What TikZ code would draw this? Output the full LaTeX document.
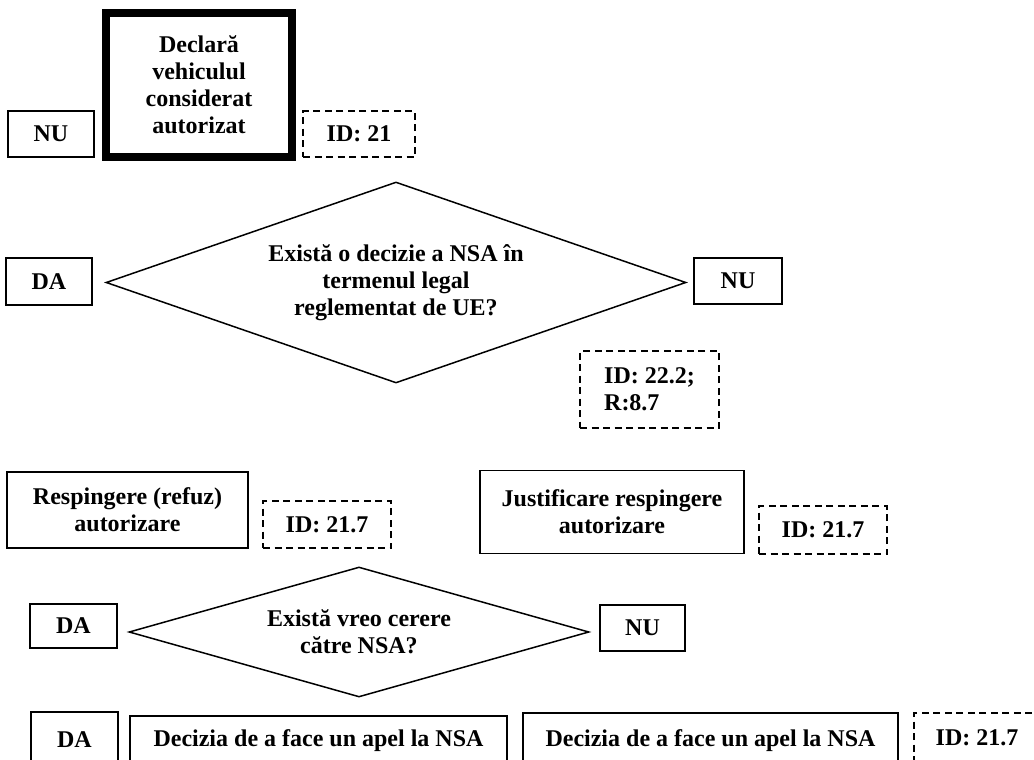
\documentclass[tikz,border=0pt]{standalone}
\usepackage{fontspec}
\setmainfont{Liberation Serif}
\usetikzlibrary{shapes.geometric}
\begin{document}
\begin{tikzpicture}[x=1pt,y=-1pt,
  every node/.style={font=\fontsize{24}{27}\selectfont\bfseries, align=center, inner sep=0pt},
  box/.style={draw, line width=1.5pt},
  dbox/.style={draw, line width=1.5pt, dash pattern=on 7pt off 4.5pt},
  dia/.style={draw, diamond, line width=1.5pt}]
\useasboundingbox (0,0) rectangle (1034,760);
\clip (0,0) rectangle (1034,760);
\node[box, minimum width=86pt, minimum height=46pt] (nu1) at (51,134) {NU};
\node[draw, line width=8pt, minimum width=186pt, minimum height=144pt] (decl) at (199,85) {Declară\\vehiculul\\considerat\\autorizat};
\node[dbox, minimum width=112pt, minimum height=46pt] (id21) at (359,134) {ID: 21};
\node[dia, minimum width=580pt, minimum height=201pt, aspect=2.9] (q1) at (396,282.5) {Există o decizie a NSA în\\termenul legal\\reglementat de UE?};
\node[box, minimum width=86pt, minimum height=47pt] (da1) at (49,281.5) {DA};
\node[box, minimum width=88pt, minimum height=46pt] (nu2) at (738,281) {NU};
\node[dbox, minimum width=139pt, minimum height=77pt, align=left] (id222) at (649.5,389.5) {ID: 22.2;\\R:8.7};
\node[box, minimum width=241pt, minimum height=76pt] (resp) at (127.5,510) {Respingere (refuz)\\autorizare};
\node[dbox, minimum width=128pt, minimum height=47pt] (id217a) at (327,524.5) {ID: 21.7};
\node[box, minimum width=264pt, minimum height=83pt] (just) at (612,512) {Justificare respingere\\autorizare};
\node[dbox, minimum width=128pt, minimum height=48pt] (id217b) at (823,530) {ID: 21.7};
\node[dia, minimum width=460pt, minimum height=130pt, aspect=3.5] (q2) at (359,632) {Există vreo cerere\\către NSA?};
\node[box, minimum width=87pt, minimum height=44pt] (da2) at (73.5,626) {DA};
\node[box, minimum width=85pt, minimum height=46pt] (nu3) at (642.5,628) {NU};
\node[box, minimum width=87pt, minimum height=56pt] (da3) at (74.5,740) {DA};
\node[box, minimum width=377pt, minimum height=50pt] (dec1) at (318.5,741) {Decizia de a face un apel la NSA};
\node[box, minimum width=375pt, minimum height=56pt] (dec2) at (710.5,741) {Decizia de a face un apel la NSA};
\node[dbox, minimum width=126pt, minimum height=50pt] (id217c) at (977,738) {ID: 21.7};
\end{tikzpicture}
\end{document}
